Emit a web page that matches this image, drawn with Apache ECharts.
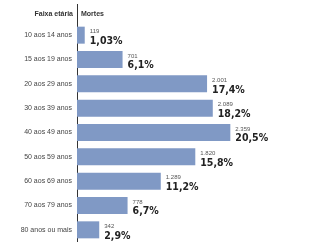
<!DOCTYPE html>
<html>
<head>
<meta charset="utf-8">
<script src="https://cdn.jsdelivr.net/npm/echarts@6/dist/echarts.min.js"></script>
<style>
  html, body { margin: 0; padding: 0; background: #fff; }
  #chart { width: 309px; height: 242px; }
</style>
</head>
<body>
<div id="chart"></div>
<script>
var faixas = ['10 aos 14 anos', '15 aos 19 anos', '20 aos 29 anos', '30 aos 39 anos',
              '40 aos 49 anos', '50 aos 59 anos', '60 aos 69 anos', '70 aos 79 anos', '80 anos ou mais'];
var mortes = [119, 701, 2001, 2089, 2359, 1820, 1289, 778, 342];
var mortesTxt = ['119', '701', '2.001', '2.089', '2.359', '1.820', '1.289', '778', '342'];
var percentuais = ['1,03%', '6,1%', '17,4%', '18,2%', '20,5%', '15,8%', '11,2%', '6,7%', '2,9%'];

var fonte = '"Liberation Sans Narrow", "Liberation Sans", Arial, sans-serif';
var fonteCond = '"DejaVu Sans Condensed", "Liberation Sans Narrow", sans-serif';
var chart = echarts.init(document.getElementById('chart'));

chart.setOption({
    animation: false,
    grid: { left: 77, right: 37, top: 23, bottom: -1, containLabel: false },
    xAxis: {
        type: 'value', min: 0, max: 3000,
        show: false
    },
    yAxis: {
        type: 'category',
        data: faixas,
        inverse: true,
        axisLine: { show: true, lineStyle: { color: '#333', width: 1 } },
        axisTick: { show: false },
        axisLabel: { fontFamily: fonte, fontSize: 7, color: '#444', margin: 5 }
    },
    graphic: [
        { type: 'line', shape: { x1: 77.5, y1: 4, x2: 77.5, y2: 23 }, style: { stroke: '#333', lineWidth: 1 } },
        { type: 'text', right: 309 - 73, top: 11,
          style: { text: 'Faixa etária', font: 'bold 7px ' + fonte, fill: '#333', textAlign: 'right' } },
        { type: 'text', left: 81, top: 11,
          style: { text: 'Mortes', font: 'bold 7px ' + fonte, fill: '#333' } }
    ],
    series: [{
        type: 'bar',
        data: mortes,
        barWidth: 17,
        itemStyle: { color: '#8099c5' },
        label: {
            show: true,
            position: 'right',
            distance: 5,
            align: 'left',
            offset: [0, 2],
            formatter: function (p) {
                return '{n|' + mortesTxt[p.dataIndex] + '}\n{p|' + percentuais[p.dataIndex] + '}';
            },
            rich: {
                n: { fontFamily: fonte, fontSize: 6, color: '#555', lineHeight: 8 },
                p: { fontFamily: fonteCond, fontSize: 10.5, fontWeight: 'bold', color: '#222', lineHeight: 11 }
            }
        }
    }]
});
</script>
</body>
</html>
